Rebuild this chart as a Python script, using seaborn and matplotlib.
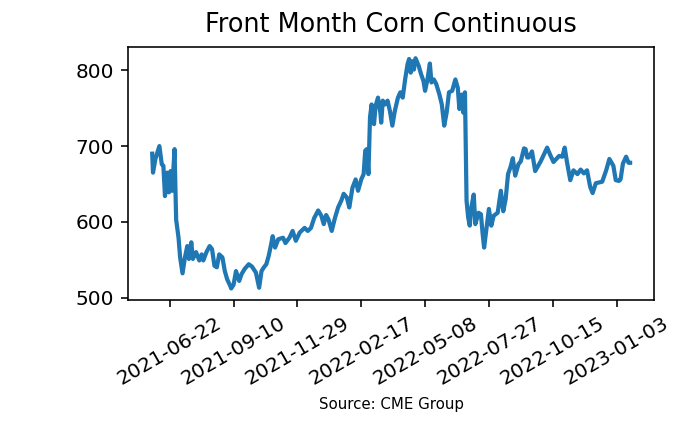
import matplotlib
matplotlib.use("Agg")
import matplotlib.pyplot as plt
import matplotlib.dates as mdates
import pandas as pd
import seaborn as sns

# Front month corn settle prices
dates = [
    "2021-05-31", "2021-06-01", "2021-06-04", "2021-06-09", "2021-06-12", "2021-06-14",
    "2021-06-16", "2021-06-19", "2021-06-21", "2021-06-23", "2021-06-25", "2021-06-28",
    "2021-06-30", "2021-07-03", "2021-07-05", "2021-07-08", "2021-07-11", "2021-07-14",
    "2021-07-16", "2021-07-19", "2021-07-21", "2021-07-25", "2021-07-29", "2021-08-01",
    "2021-08-03", "2021-08-07", "2021-08-11", "2021-08-14", "2021-08-17", "2021-08-20",
    "2021-08-23", "2021-08-27", "2021-08-30", "2021-09-02", "2021-09-06", "2021-09-07",
    "2021-09-10", "2021-09-13", "2021-09-17", "2021-09-20", "2021-09-24", "2021-09-29",
    "2021-10-03", "2021-10-08", "2021-10-12", "2021-10-15", "2021-10-18", "2021-10-21",
    "2021-10-24", "2021-10-27", "2021-10-29", "2021-11-01", "2021-11-05", "2021-11-11",
    "2021-11-14", "2021-11-19", "2021-11-23", "2021-11-27", "2021-12-02", "2021-12-08",
    "2021-12-12", "2021-12-16", "2021-12-20", "2021-12-25", "2021-12-29", "2022-01-01",
    "2022-01-04", "2022-01-07", "2022-01-11", "2022-01-15", "2022-01-19", "2022-01-23",
    "2022-01-26", "2022-01-30", "2022-02-02", "2022-02-06", "2022-02-10", "2022-02-13",
    "2022-02-17", "2022-02-20", "2022-02-22", "2022-02-24", "2022-02-26", "2022-02-28",
    "2022-03-02", "2022-03-05", "2022-03-07", "2022-03-10", "2022-03-13", "2022-03-14",
    "2022-03-16", "2022-03-19", "2022-03-22", "2022-03-25", "2022-03-28", "2022-03-31",
    "2022-04-04", "2022-04-07", "2022-04-10", "2022-04-13", "2022-04-16", "2022-04-18",
    "2022-04-20", "2022-04-22", "2022-04-24", "2022-04-26", "2022-04-30", "2022-05-03",
    "2022-05-06", "2022-05-08", "2022-05-11", "2022-05-14", "2022-05-16", "2022-05-19",
    "2022-05-22", "2022-05-26", "2022-05-29", "2022-06-01", "2022-06-04", "2022-06-07",
    "2022-06-11", "2022-06-15", "2022-06-18", "2022-06-20", "2022-06-23", "2022-06-25",
    "2022-06-27", "2022-06-29", "2022-07-01", "2022-07-03", "2022-07-05", "2022-07-08",
    "2022-07-10", "2022-07-14", "2022-07-17", "2022-07-19", "2022-07-21", "2022-07-24",
    "2022-07-27", "2022-07-30", "2022-08-02", "2022-08-07", "2022-08-11", "2022-08-14",
    "2022-08-17", "2022-08-20", "2022-08-23", "2022-08-26", "2022-08-29", "2022-09-02",
    "2022-09-05", "2022-09-09", "2022-09-11", "2022-09-13", "2022-09-15", "2022-09-19",
    "2022-09-23", "2022-09-30", "2022-10-08", "2022-10-12", "2022-10-16", "2022-10-23",
    "2022-10-27", "2022-10-30", "2022-11-02", "2022-11-06", "2022-11-10", "2022-11-15",
    "2022-11-19", "2022-11-23", "2022-11-27", "2022-12-01", "2022-12-04", "2022-12-08",
    "2022-12-12", "2022-12-16", "2022-12-21", "2022-12-25", "2022-12-30", "2023-01-02",
    "2023-01-06", "2023-01-08", "2023-01-11", "2023-01-15", "2023-01-18", "2023-01-20",
]
prices = [
    690, 665, 683, 700, 676, 674,
    634, 665, 639, 667, 641, 696,
    603, 579, 553, 532, 553, 568,
    551, 573, 551, 560, 549, 557,
    549, 560, 568, 564, 542, 540,
    557, 553, 535, 524, 515, 512,
    517, 535, 522, 531, 538, 544,
    541, 533, 513, 535, 540, 544,
    555, 570, 581, 566, 577, 579,
    572, 579, 588, 575, 586, 592,
    588, 592, 605, 615, 608, 597,
    609, 603, 588, 605, 619, 628,
    637, 632, 619, 645, 656, 641,
    656, 663, 694, 696, 663, 738,
    755, 729, 753, 764, 744, 731,
    760, 755, 760, 746, 727, 746,
    764, 771, 764, 788, 808, 815,
    797, 812, 801, 816, 806, 795,
    786, 773, 788, 809, 784, 788,
    782, 768, 755, 727, 744, 771,
    773, 788, 777, 749, 768, 744,
    771, 628, 606, 595, 619, 636,
    597, 612, 610, 586, 566, 592,
    617, 595, 608, 612, 641, 614,
    630, 663, 672, 684, 661, 676,
    680, 697, 696, 685, 685, 693,
    667, 680, 698, 688, 679, 687,
    686, 698, 678, 655, 668, 663,
    669, 664, 668, 646, 638, 651,
    652, 653, 668, 683, 674, 655,
    654, 656, 677, 686, 678, 678,
]

tick_dates = pd.date_range("2021-06-22", "2023-01-03", freq="80D")

df = pd.DataFrame({"date": pd.to_datetime(dates), "price": prices})

fig, ax = plt.subplots(figsize=(700 / 144, 421 / 144), dpi=144)
fig.subplots_adjust(left=0.1833, right=0.9343, top=0.889, bottom=0.2874)

sns.lineplot(data=df, x="date", y="price", ax=ax, color="tab:blue", linewidth=2.1)

ax.set_title("Front Month Corn Continuous", fontsize=12.75, pad=7.5)
ax.set_xlabel("Source: CME Group", fontsize=7.5)
ax.set_ylabel("")
ax.set_yticks([500, 600, 700, 800])
ax.set_xticks(tick_dates)
ax.xaxis.set_major_formatter(mdates.DateFormatter("%Y-%m-%d"))
plt.setp(ax.get_xticklabels(), rotation=30)

fig.savefig("out.png", dpi=144)
